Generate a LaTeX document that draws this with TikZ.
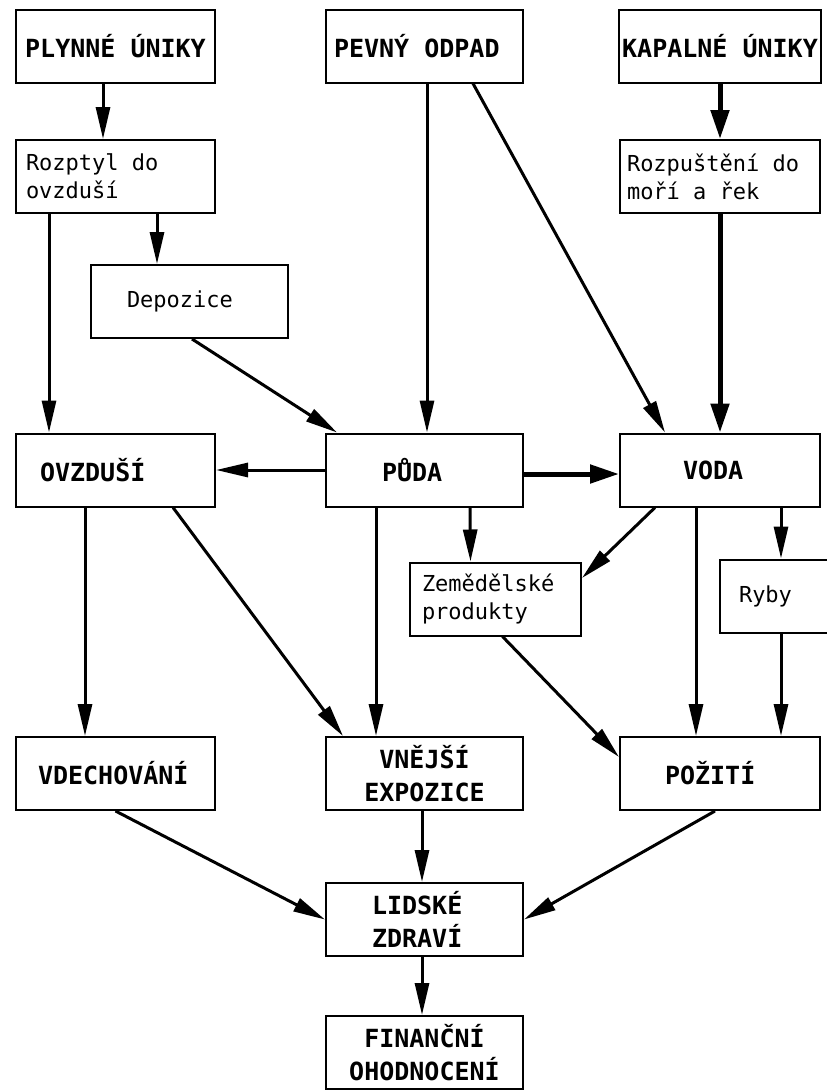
\documentclass[tikz,border=0pt]{standalone}
\usepackage{fontspec}
\setmonofont{DejaVu Sans Mono}
\usetikzlibrary{arrows.meta}

\begin{document}
\begin{tikzpicture}[
    x=1pt, y=-1pt,
    box/.style={draw, line width=2pt, minimum width=199pt, minimum height=73pt,
        inner ysep=0pt, align=center, font=\ttfamily\bfseries\fontsize{25}{33}\selectfont},
    lbox/.style 2 args={box, minimum width=0pt, inner xsep=#1, text width=#2, align=flush left},
    small/.style={font=\ttfamily\fontsize{22}{28}\selectfont},
    arrow/.style={-{Triangle[length=32pt,width=14pt]}, line width=3pt},
    thickarrow/.style={-{Triangle[length=29pt,width=18pt]}, line width=5pt}
]
\useasboundingbox (0,0) rectangle (827,1090);

% Zdroje
\node[box] (plyn) at (115.5,46) {PLYNNÉ ÚNIKY};
\node[lbox={8pt}{181pt}] (pevny) at (424.5,46) {PEVNÝ ODPAD};
\node[box, minimum width=200pt] (kapal) at (720,46) {KAPALNÉ ÚNIKY};

% Šíření
\node[lbox={10pt}{179pt}, small] (rozptyl) at (115.5,176.5) {Rozptyl do\\ovzduší};
\node[lbox={7pt}{186pt}, small] (rozpust) at (720,176.5) {Rozpuštění do\\moří a řek};
\node[lbox={36pt}{125pt}, small] (depo) at (189.5,301.5) {Depozice};

% Složky prostředí
\node[lbox={24pt}{151pt}] (ovzd) at (115.5,470) {OVZDUŠÍ};
\node[lbox={56pt}{85pt}] (puda) at (424.5,470) {PŮDA};
\node[lbox={63pt}{74pt}] (voda) at (720,470) {VODA};
\node[lbox={12pt}{147pt}, small] (zemed) at (495.5,599) {Zemědělské\\produkty};
\node[lbox={19pt}{82pt}, small] (ryby) at (780,596) {Ryby};

% Expozice
\node[lbox={22pt}{155pt}] (vdech) at (115.5,773.5) {VDECHOVÁNÍ};
\node[box, minimum width=197pt] (vnejsi) at (424.5,773.5) {VNĚJŠÍ\\EXPOZICE};
\node[lbox={45pt}{110pt}] (pozit) at (720,773.5) {POŽITÍ};

% Dopady
\node[lbox={46pt}{105pt}] (lidske) at (424.5,919.5) {LIDSKÉ\\ZDRAVÍ};
\node[box, minimum width=197pt] (financ) at (424.5,1052.5) {FINANČNÍ\\OHODNOCENÍ};

% Svislé šipky
\foreach \a/\b/\da/\db in {plyn/rozptyl/-12.5/-12.5, rozptyl/depo/41.5/-32.5,
    rozptyl/ovzd/-66.5/-66.5, pevny/puda/2.5/2.5, puda/zemed/45.5/-25,
    voda/pozit/-24/-24, voda/ryby/61/1, ryby/pozit/1/61, ovzd/vdech/-30.5/-30.5,
    puda/vnejsi/-48.5/-48.5, vnejsi/lidske/-2.5/-2.5, lidske/financ/-2.5/-2.5} {
    \draw[arrow] ([xshift=\da pt]\a.south) -- ([xshift=\db pt]\b.north);
}
\draw[thickarrow] (kapal.south) -- (rozpust.north);
\draw[thickarrow] (rozpust.south) -- (voda.north);

% Šikmé a vodorovné šipky
\draw[arrow] ([xshift=2.5pt]depo.south) -- ([xshift=-87.5pt]puda.north);
\draw[arrow] ([xshift=48.5pt]pevny.south) -- ([xshift=-55pt]voda.north);
\draw[arrow] (puda.west) -- (ovzd.east);
\draw[thickarrow] ([yshift=-4pt]puda.east) -- ([yshift=-4pt]voda.west);
\draw[arrow] ([xshift=-65pt]voda.south) -- ([yshift=21pt]zemed.east);
\draw[arrow] ([xshift=7pt]zemed.south) -- ([yshift=16.5pt]pozit.west);
\draw[arrow] ([xshift=57.5pt]ovzd.south) -- ([xshift=-81.5pt]vnejsi.north);
\draw[arrow] (vdech.south) -- (lidske.west);
\draw[arrow] ([xshift=-5pt]pozit.south) -- (lidske.east);

\end{tikzpicture}
\end{document}
